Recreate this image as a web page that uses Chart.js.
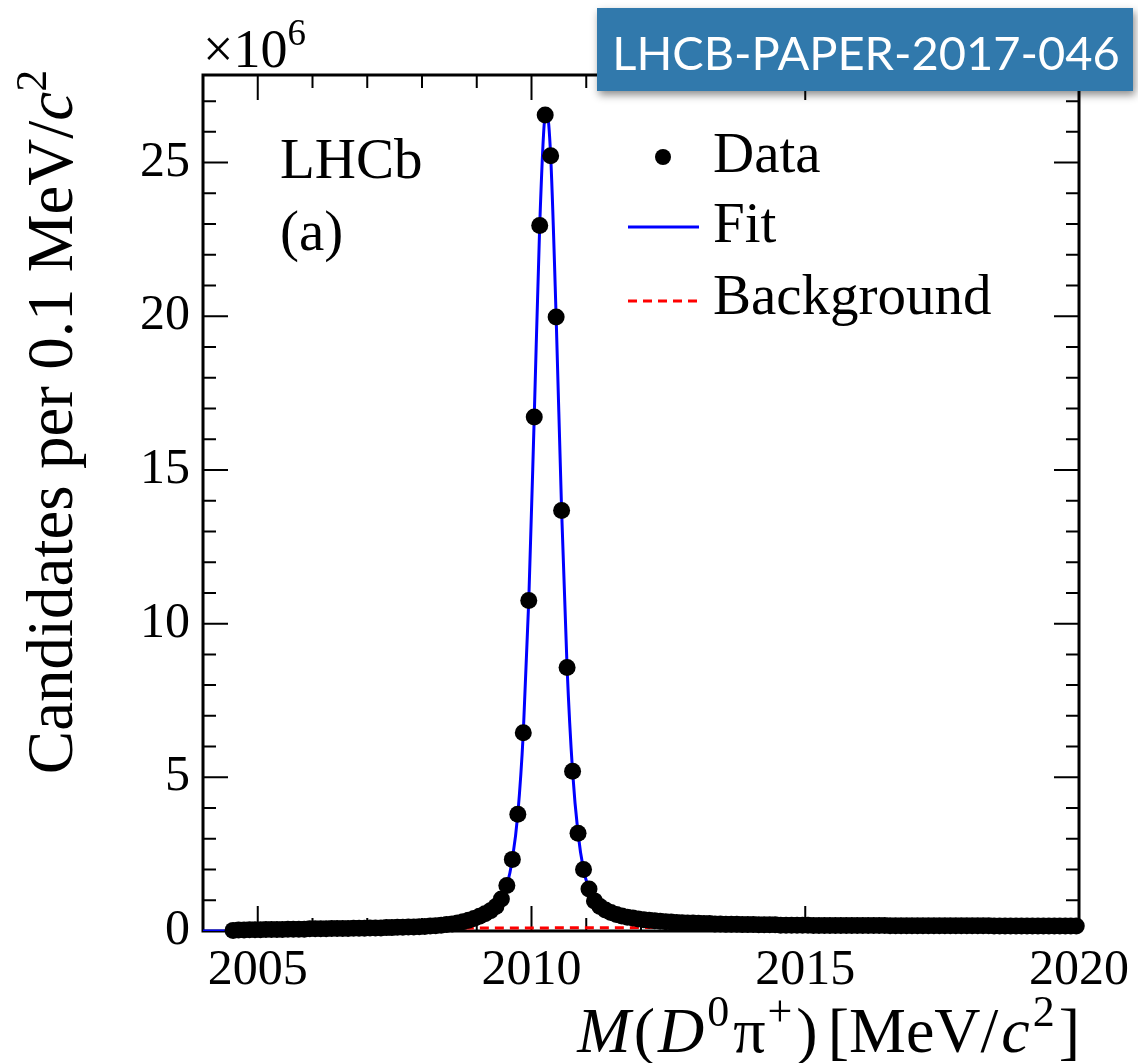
<!DOCTYPE html>
<html>
<head>
<meta charset="utf-8">
<script src="https://cdn.jsdelivr.net/npm/chart.js@4.4.1/dist/chart.umd.min.js"></script>
<style>
  html, body { margin: 0; padding: 0; background: #fff; }
</style>
</head>
<body>
<canvas id="chart" width="1138" height="1063"></canvas>
<script>
// bins of 0.1 MeV, first bin centre at 2004.55
const binStart = 2004.55;
const binWidth = 0.1;

// candidates per bin (x10^6), one row per MeV
const counts2004 = [0.02, 0.03, 0.03, 0.04, 0.04];
const counts2005 = [0.04, 0.05, 0.05, 0.05, 0.05, 0.06, 0.06, 0.06, 0.06, 0.07];
const counts2006 = [0.07, 0.07, 0.07, 0.08, 0.08, 0.08, 0.08, 0.09, 0.09, 0.09];
const counts2007 = [0.10, 0.10, 0.10, 0.11, 0.11, 0.12, 0.12, 0.13, 0.13, 0.14];
const counts2008 = [0.15, 0.16, 0.17, 0.19, 0.21, 0.23, 0.26, 0.30, 0.35, 0.41];
const counts2009 = [0.48, 0.56, 0.66, 0.80, 1.04, 1.48, 2.33, 3.80, 6.45, 10.75];
const counts2010 = [16.72, 22.95, 26.55, 25.22, 19.98, 13.68, 8.57, 5.20, 3.18, 2.00];
const counts2011 = [1.37, 0.98, 0.80, 0.68, 0.60, 0.54, 0.49, 0.45, 0.42, 0.39];
const counts2012 = [0.37, 0.35, 0.33, 0.32, 0.30, 0.29, 0.28, 0.27, 0.26, 0.26];
const counts2013 = [0.25, 0.24, 0.24, 0.23, 0.23, 0.22, 0.22, 0.22, 0.21, 0.21];
const counts2014 = [0.21, 0.20, 0.20, 0.20, 0.20, 0.19, 0.19, 0.19, 0.19, 0.19];
const counts2015 = [0.19, 0.18, 0.18, 0.18, 0.18, 0.18, 0.18, 0.18, 0.18, 0.18];
const counts2016 = [0.18, 0.18, 0.18, 0.18, 0.18, 0.17, 0.17, 0.17, 0.17, 0.17];
const counts2017 = [0.17, 0.17, 0.17, 0.17, 0.17, 0.17, 0.17, 0.17, 0.17, 0.17];
const counts2018 = [0.17, 0.17, 0.17, 0.17, 0.16, 0.16, 0.16, 0.16, 0.16, 0.16];
const counts2019 = [0.16, 0.16, 0.16, 0.16, 0.16, 0.16, 0.16, 0.16, 0.16, 0.16];

const counts = [].concat(counts2004, counts2005, counts2006, counts2007, counts2008,
  counts2009, counts2010, counts2011, counts2012, counts2013, counts2014,
  counts2015, counts2016, counts2017, counts2018, counts2019);

// fit curve
const fitMass = [2004.0, 2004.4, 2004.55, 2005.0, 2006.0, 2007.0, 2008.0, 2008.5, 2009.0,
  2009.25, 2009.45, 2009.55, 2009.65, 2009.75, 2009.85, 2009.95, 2010.05, 2010.15,
  2010.25, 2010.28, 2010.35, 2010.45, 2010.55, 2010.65, 2010.75, 2010.85, 2010.95,
  2011.05, 2011.15, 2011.35, 2011.6, 2012.0, 2012.5, 2013.0, 2014.0, 2016.0, 2018.0, 2020.0];
const fitValue = [0, 0, 0.02, 0.04, 0.07, 0.10, 0.15, 0.23, 0.46,
  0.70, 1.04, 1.48, 2.33, 3.80, 6.45, 10.75, 16.72, 22.95,
  26.55, 26.62, 25.22, 19.98, 13.68, 8.57, 5.20, 3.18, 2.00,
  1.37, 0.98, 0.68, 0.50, 0.37, 0.28, 0.24, 0.20, 0.18, 0.16, 0.16];

// background component
const bkgMass = [2004.4, 2005.0, 2006.0, 2008.0, 2010.0, 2012.0, 2016.0, 2020.0];
const bkgValue = [0, 0.05, 0.07, 0.09, 0.10, 0.11, 0.12, 0.13];

const xTickLabels = [2005, 2010, 2015, 2020];
const yTickLabels = [0, 5, 10, 15, 20, 25];
const xMin = 2004, xMax = 2020, yMin = 0, yMax = 27.85;

const serif = '"Liberation Serif", "Times New Roman", serif';

const dataPoints = counts.map((v, i) => ({ x: binStart + i * binWidth, y: v }));
const fitPoints = fitMass.map((m, i) => ({ x: m, y: fitValue[i] }));
const bkgPoints = bkgMass.map((m, i) => ({ x: m, y: bkgValue[i] }));

function drawRich(ctx, parts, x, y, size, align) {
  let total = 0;
  parts.forEach(p => {
    ctx.font = (p.italic ? 'italic ' : '') + Math.round(size * (p.sup ? 0.68 : 1)) + 'px ' + serif;
    p.w = ctx.measureText(p.t).width;
    total += p.w + (p.gap || 0);
  });
  let cx = align === 'right' ? x - total : align === 'center' ? x - total / 2 : x;
  ctx.textAlign = 'left';
  ctx.textBaseline = 'alphabetic';
  parts.forEach(p => {
    ctx.font = (p.italic ? 'italic ' : '') + Math.round(size * (p.sup ? 0.68 : 1)) + 'px ' + serif;
    ctx.fillText(p.t, cx, y - (p.sup ? size * 0.4 : 0));
    cx += p.w + (p.gap || 0);
  });
}

const rootStyle = {
  id: 'rootStyle',
  beforeDatasetsDraw(chart) {
    const { ctx, chartArea: a, scales } = chart;
    ctx.save();
    ctx.strokeStyle = '#000';
    ctx.lineWidth = 3;
    ctx.strokeRect(a.left, a.top, a.right - a.left, a.bottom - a.top);
    ctx.lineWidth = 2;
    ctx.beginPath();
    for (let v = xMin + 1; v < xMax; v++) {
      const px = scales.x.getPixelForValue(v);
      const len = v % 5 === 0 ? 25 : 13;
      ctx.moveTo(px, a.bottom); ctx.lineTo(px, a.bottom - len);
      ctx.moveTo(px, a.top); ctx.lineTo(px, a.top + len);
    }
    for (let v = yMin + 1; v < yMax; v++) {
      const py = scales.y.getPixelForValue(v);
      const len = v % 5 === 0 ? 25 : 13;
      ctx.moveTo(a.left, py); ctx.lineTo(a.left + len, py);
      ctx.moveTo(a.right, py); ctx.lineTo(a.right - len, py);
    }
    ctx.stroke();
    ctx.restore();
  },
  afterDraw(chart) {
    const ctx = chart.ctx;
    const a = chart.chartArea;
    ctx.save();
    ctx.fillStyle = '#000';

    // axis titles, right-aligned to the end of each axis
    drawRich(ctx, [
      { t: 'M', italic: true, gap: 3 }, { t: '(', gap: 3 }, { t: 'D', italic: true, gap: 3 },
      { t: '0', sup: true, gap: 4 }, { t: 'π', gap: 2 }, { t: '+', sup: true, gap: 4 },
      { t: ')', gap: 10 }, { t: '[MeV/', gap: 3 }, { t: 'c', italic: true, gap: 3 },
      { t: '2', sup: true, gap: 4 }, { t: ']' }
    ], a.right + 1, 1052, 64, 'right');

    ctx.save();
    ctx.translate(72, 422);
    ctx.rotate(-Math.PI / 2);
    drawRich(ctx, [
      { t: 'Candidates per 0.1 MeV/' }, { t: 'c', italic: true }, { t: '2', sup: true }
    ], 0, 0, 65, 'center');
    ctx.restore();

    // exponent
    drawRich(ctx, [{ t: '×10' }, { t: '6', sup: true }], 203, 67, 54, 'left');

    // labels
    ctx.font = '57px ' + serif;
    ctx.textAlign = 'left';
    ctx.textBaseline = 'alphabetic';
    ctx.fillText('LHCb', 280, 178);
    ctx.fillText('(a)', 280, 250);

    // legend
    ctx.fillText('Data', 713, 172);
    ctx.fillText('Fit', 713, 242);
    ctx.fillText('Background', 713, 314);
    ctx.beginPath();
    ctx.arc(663, 157, 8, 0, Math.PI * 2);
    ctx.fill();
    ctx.lineWidth = 3;
    ctx.strokeStyle = '#0000ff';
    ctx.beginPath(); ctx.moveTo(628, 227); ctx.lineTo(699, 227); ctx.stroke();
    ctx.strokeStyle = '#ff0000';
    ctx.setLineDash([9, 6]);
    ctx.beginPath(); ctx.moveTo(628, 301); ctx.lineTo(699, 301); ctx.stroke();
    ctx.setLineDash([]);

    // paper badge
    ctx.save();
    ctx.shadowColor = 'rgba(0,0,0,0.45)';
    ctx.shadowBlur = 8;
    ctx.shadowOffsetX = 2;
    ctx.shadowOffsetY = 4;
    ctx.fillStyle = '#3179ac';
    ctx.fillRect(597, 8, 536, 83);
    ctx.restore();
    ctx.fillStyle = '#fff';
    ctx.font = '47px Lato, "Open Sans", sans-serif';
    ctx.textAlign = 'center';
    ctx.fillText('LHCB-PAPER-2017-046', 866, 70);
    ctx.restore();
  }
};

new Chart(document.getElementById('chart'), {
  type: 'scatter',
  data: {
    datasets: [
      {
        label: 'Data',
        data: dataPoints,
        pointRadius: 8.5,
        pointBackgroundColor: '#000',
        pointBorderWidth: 0,
        clip: false,
        order: 0
      },
      {
        label: 'Fit',
        data: fitPoints,
        showLine: true,
        pointRadius: 0,
        borderColor: '#0000ff',
        borderWidth: 3,
        cubicInterpolationMode: 'monotone',
        order: 1
      },
      {
        label: 'Background',
        data: bkgPoints,
        showLine: true,
        pointRadius: 0,
        borderColor: '#ff0000',
        borderWidth: 3,
        borderDash: [9, 6],
        cubicInterpolationMode: 'monotone',
        order: 2
      }
    ]
  },
  options: {
    responsive: false,
    animation: false,
    events: [],
    layout: { padding: { top: 75, right: 59, left: 0, bottom: 0 } },
    plugins: { legend: { display: false }, tooltip: { enabled: false } },
    scales: {
      x: {
        type: 'linear',
        min: xMin,
        max: xMax,
        grid: { display: false },
        border: { display: false },
        afterBuildTicks: s => { s.ticks = xTickLabels.map(v => ({ value: v })); },
        afterFit: s => { s.height = 132; },
        ticks: {
          color: '#000',
          padding: 2,
          maxRotation: 0,
          autoSkip: false,
          font: { family: serif, size: 50 },
          callback: v => String(v)
        }
      },
      y: {
        min: yMin,
        max: yMax,
        grid: { display: false },
        border: { display: false },
        afterBuildTicks: s => { s.ticks = yTickLabels.map(v => ({ value: v })); },
        afterFit: s => { s.width = 203; },
        ticks: {
          color: '#000',
          padding: 5,
          font: { family: serif, size: 50 },
          callback: v => String(v)
        }
      }
    }
  },
  plugins: [rootStyle]
});
</script>
</body>
</html>
